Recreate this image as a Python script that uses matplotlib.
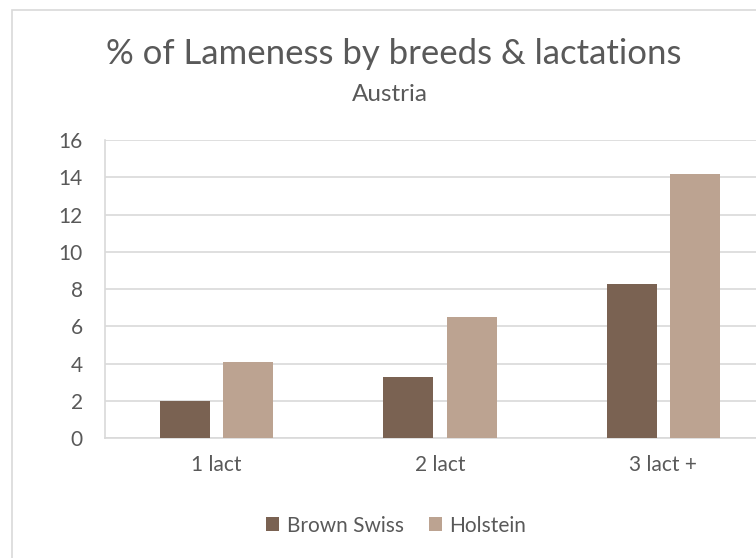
import matplotlib
matplotlib.use("Agg")
import matplotlib.pyplot as plt
from matplotlib.patches import Rectangle
import numpy as np

categories = ["1 lact", "2 lact", "3 lact +"]
brown_swiss = [2.0, 3.3, 8.3]
holstein = [4.1, 6.5, 14.2]
series_names = ["Brown Swiss", "Holstein"]
yticks = [0, 2, 4, 6, 8, 10, 12, 14, 16]

TXT = "#595959"
GRID = "#d9d9d9"
C_BS = "#7a6252"
C_HO = "#bca391"

plt.rcParams["font.family"] = ["Lato", "DejaVu Sans"]

W, H = 756, 558
fig = plt.figure(figsize=(W / 100, H / 100), dpi=100)

# chart border (runs off the right and bottom like the source)
fig.patches.append(Rectangle((12 / W, -0.1), 1.2, 1 - 10 / H + 0.1, transform=fig.transFigure,
                             fill=False, edgecolor=GRID, linewidth=1.2))

# plot area extends past the right edge in the original
ax = fig.add_axes([105 / W, 1 - 438.3 / H, 670 / W, (438.3 - 140) / H])
x = np.arange(len(categories))
bw = 0.224
ax.bar(x - 0.142, brown_swiss, bw, color=C_BS, label=series_names[0], zorder=3)
ax.bar(x + 0.142, holstein, bw, color=C_HO, label=series_names[1], zorder=3)

ax.set_xlim(-0.5, 2.5)
ax.set_ylim(0, 16)
ax.set_yticks(yticks)
ax.set_xticks(x)
ax.set_xticklabels(categories)
ax.yaxis.grid(True, color=GRID, linewidth=1.2, zorder=0)
ax.set_axisbelow(True)
for s in ["top", "right"]:
    ax.spines[s].set_visible(False)
for s in ["left", "bottom"]:
    ax.spines[s].set_color(GRID)
    ax.spines[s].set_linewidth(1.2)
ax.tick_params(axis="both", length=0, labelsize=15, colors=TXT)
ax.tick_params(axis="y", pad=16)
ax.tick_params(axis="x", pad=12)

fig.text(394 / W, 1 - 64 / H, "% of Lameness by breeds & lactations", ha="center",
         va="baseline", fontsize=25, color=TXT)
fig.text(390 / W, 1 - 100.7 / H, "Austria", ha="center", va="baseline",
         fontsize=17.5, color=TXT)

fig.legend(loc="center", bbox_to_anchor=(396 / W, 1 - 525.5 / H), ncol=2, frameon=False,
           fontsize=15, handlelength=0.65, handleheight=0.65, handletextpad=0.35,
           columnspacing=1.2, labelcolor=TXT)

fig.savefig("out.png", dpi=100)
